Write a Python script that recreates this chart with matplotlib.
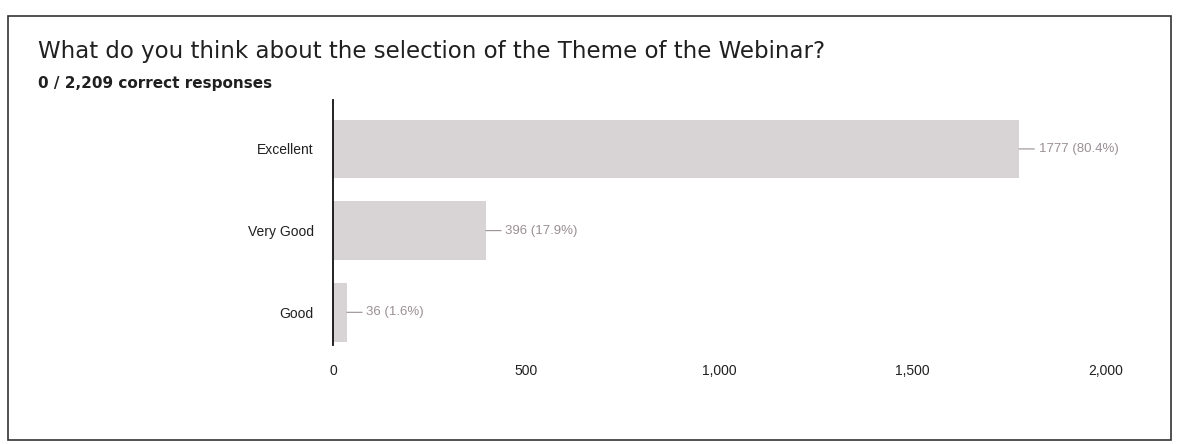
#!/usr/bin/env python3
"""Horizontal bar chart of webinar theme feedback (Google Forms style)."""

import matplotlib

matplotlib.use('Agg')
from matplotlib import pyplot as plt  # noqa: E402
from matplotlib.patches import Rectangle  # noqa: E402

TITLE = 'What do you think about the selection of the Theme of the Webinar?'
SUBTITLE = '0 / 2,209 correct responses'
CATEGORIES = ['Excellent', 'Very Good', 'Good']
COUNTS = [1777, 396, 36]
PERCENTS = [80.4, 17.9, 1.6]
X_TICKS = [0, 500, 1000, 1500, 2000]
X_TICK_LABELS = ['0', '500', '1,000', '1,500', '2,000']

BAR_COLOR = '#d8d4d6'
LABEL_COLOR = '#9a8f95'

plt.rcParams.update({
    'font.family': ['Liberation Sans', 'DejaVu Sans'],
})

fig = plt.figure(figsize=(11.79, 4.44), dpi=100)
fig.patch.set_facecolor('white')

# card border
fig.add_artist(Rectangle((0.007, 0.01), 0.986, 0.955, transform=fig.transFigure,
                         fill=False, edgecolor='#333333', linewidth=1.2))

fig.text(0.032, 0.885, TITLE, fontsize=16.5, color='#202020', ha='left', va='center',
         family='DejaVu Sans')
fig.text(0.032, 0.813, SUBTITLE, fontsize=11, color='#202020', ha='left', va='center',
         family='DejaVu Sans', fontweight='bold')

ax = fig.add_axes([0.2824, 0.223, 0.655, 0.552])
positions = list(range(len(CATEGORIES)))
ax.barh(positions, COUNTS, height=0.72, color=BAR_COLOR, edgecolor='none')
ax.set_ylim(2.4, -0.6)
ax.set_xlim(0, 2000)
ax.set_yticks(positions)
ax.set_yticklabels(CATEGORIES, fontsize=10, color='#202020')
ax.set_xticks(X_TICKS)
ax.set_xticklabels(X_TICK_LABELS, fontsize=10, color='#202020')
ax.tick_params(axis='both', length=0)
ax.tick_params(axis='y', pad=14)
ax.tick_params(axis='x', pad=14)
for side in ('top', 'right', 'bottom'):
    ax.spines[side].set_visible(False)
ax.spines['left'].set_color('#111111')
ax.spines['left'].set_linewidth(1.3)

for pos, count, pct in zip(positions, COUNTS, PERCENTS):
    ax.annotate(
        f'{count} ({pct:.1f}%)',
        xy=(count, pos),
        xytext=(14, 0),
        textcoords='offset points',
        ha='left',
        va='center',
        fontsize=9.5,
        color=LABEL_COLOR,
        arrowprops={'arrowstyle': '-', 'color': LABEL_COLOR, 'linewidth': 0.8,
                    'shrinkA': 1, 'shrinkB': 0},
    )

fig.savefig('out.png', dpi=100, facecolor='white')
